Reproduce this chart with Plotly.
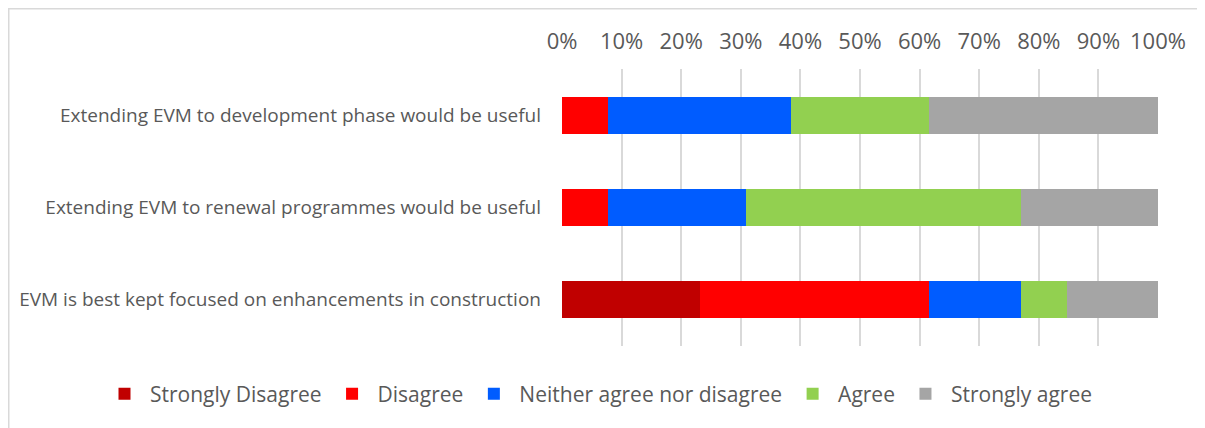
import plotly.graph_objects as go

categories = [
    "Extending EVM to development phase would be useful",
    "Extending EVM to renewal programmes would be useful",
    "EVM is best kept focused on enhancements in construction",
]
series_names = ["Strongly Disagree", "Disagree", "Neither agree nor disagree", "Agree", "Strongly agree"]
strongly_disagree = [0.0, 0.0, 23.1]
disagree = [7.7, 7.7, 38.5]
neither = [30.8, 23.1, 15.4]
agree = [23.1, 46.2, 7.7]
strongly_agree = [38.5, 23.1, 15.4]
colors = ["#C00000", "#FF0000", "#005CFF", "#92D050", "#A5A5A5"]
tick_vals = [0, 10, 20, 30, 40, 50, 60, 70, 80, 90, 100]
tick_text = [f"{v}%" for v in tick_vals]

# page is drawn with an 8px body margin, so figure pixels = page pixels - 8
W, H = 1197, 420
ML, MR, MT, MB = 554, 47, 61, 82
PW, PH = W - ML - MR, H - MT - MB

def px_x(x):
    return (x - ML) / PW

def px_y(y):
    return (H - MB - y) / PH

fig = go.Figure()
for name, vals, col in zip(series_names,
                           [strongly_disagree, disagree, neither, agree, strongly_agree],
                           colors):
    fig.add_trace(go.Bar(
        y=categories, x=vals, name=name, orientation="h",
        marker=dict(color=col, line=dict(width=0)),
    ))

fig.update_layout(
    width=W, height=H,
    barmode="stack", bargap=0.6,
    margin=dict(l=ML, r=MR, t=MT, b=MB, autoexpand=False),
    paper_bgcolor="white", plot_bgcolor="white",
    font=dict(family="Open Sans", color="#595959"),
    showlegend=True,
    legend=dict(orientation="h", x=px_x(91), xanchor="left",
                y=px_y(386), yanchor="middle",
                font=dict(size=21, color="#595959"), traceorder="normal",
                itemwidth=41, bgcolor="rgba(0,0,0,0)"),
    xaxis=dict(side="top", range=[0, 100], tickvals=tick_vals, ticktext=tick_text,
               showgrid=True, gridcolor="#D9D9D9", gridwidth=2,
               zeroline=False, showline=False, ticks="",
               tickfont=dict(size=22, color="#595959"), ticklabelstandoff=15),
    yaxis=dict(autorange="reversed", showgrid=False, zeroline=False, showline=False,
               ticks="", tickfont=dict(size=19, color="#595959"), ticklabelstandoff=20),
    shapes=[dict(type="rect", xref="paper", yref="paper",
                 x0=px_x(0.75), x1=px_x(W + 20), y0=px_y(H + 20), y1=px_y(0.75),
                 line=dict(color="#D9D9D9", width=1.5), fillcolor="rgba(0,0,0,0)",
                 layer="below")],
)

fig.write_html("out.html")
